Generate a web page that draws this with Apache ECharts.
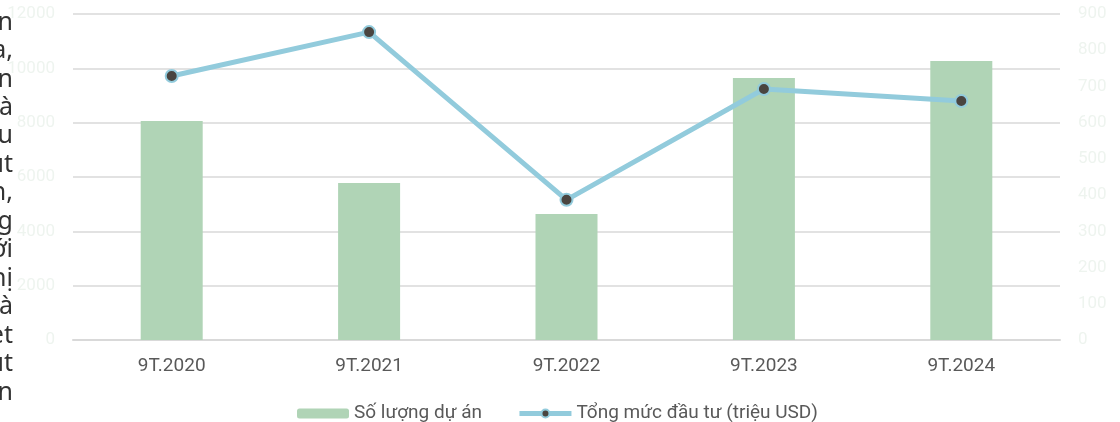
<!DOCTYPE html>
<html>
<head>
<meta charset="utf-8">
<script src="https://cdn.jsdelivr.net/npm/echarts@6/dist/echarts.min.js"></script>
<style>
  html, body { margin: 0; padding: 0; background: #fff; }
  #chart { width: 1120px; height: 422px; }
</style>
</head>
<body>
<div id="chart"></div>
<script>
// categories + values
var categories = ['9T.2020', '9T.2021', '9T.2022', '9T.2023', '9T.2024'];
var projectCount = [8060, 5780, 4640, 9640, 10270];
var investment = [729, 850, 387, 693, 660];
var leftTicks = { min: 0, max: 12000, interval: 2000 };
var rightTicks = { min: 0, max: 900, interval: 100 };
// cut-off paragraph text at the left edge
var sideText = ['n', 'a,', 'n', 'à', 'u', 'ut', 'n,', 'g', 'ới', 'hị', 'à', 'et', 'ut', 'n'];

var chart = echarts.init(document.getElementById('chart'));

var graphics = sideText.map(function (t, i) {
  return {
    type: 'text',
    right: 1120 - 13,
    top: 10 + i * 28.46,
    z: 100,
    style: {
      text: t,
      fill: '#333333',
      font: '25px "Noto Sans"',
      textAlign: 'right'
    }
  };
});

var plainNum = function (v) { return String(v); };

var option = {
  animation: false,
  textStyle: { fontFamily: 'Roboto' },
  grid: { left: 73, right: 60, top: 14, bottom: 82 },
  legend: {
    left: 292,
    top: 399,
    itemGap: 35,
    itemWidth: 52,
    itemHeight: 10,
    textStyle: { color: '#595959', fontSize: 19 },
    data: [
      { name: 'Số lượng dự án', itemStyle: { color: '#b0d4b6' } },
      {
        name: 'Tổng mức đầu tư (triệu USD)',
        lineStyle: { color: '#92cbdc', width: 5 },
        itemStyle: { color: '#4a4540', borderColor: '#92cbdc', borderWidth: 2 }
      }
    ]
  },
  xAxis: {
    type: 'category',
    data: categories,
    axisTick: { show: false },
    axisLine: { lineStyle: { color: '#d9d9d9', width: 2 } },
    axisLabel: { color: '#595959', fontSize: 19, margin: 17 }
  },
  yAxis: [
    {
      type: 'value',
      min: leftTicks.min,
      max: leftTicks.max,
      interval: leftTicks.interval,
      axisLabel: { color: '#eef4ef', fontSize: 17, margin: 18, formatter: plainNum },
      splitLine: { lineStyle: { color: '#d9d9d9', width: 1.5 } }
    },
    {
      type: 'value',
      min: rightTicks.min,
      max: rightTicks.max,
      interval: rightTicks.interval,
      axisLabel: { color: '#eef4ef', fontSize: 17, margin: 18, formatter: plainNum },
      splitLine: { show: false }
    }
  ],
  series: [
    {
      name: 'Số lượng dự án',
      type: 'bar',
      data: projectCount,
      barWidth: 62,
      itemStyle: { color: '#b0d4b6' },
      legendIcon: 'rect'
    },
    {
      name: 'Tổng mức đầu tư (triệu USD)',
      type: 'line',
      yAxisIndex: 1,
      data: investment,
      symbol: 'circle',
      symbolSize: 12,
      lineStyle: { color: '#92cbdc', width: 5 },
      itemStyle: { color: '#4a4540', borderColor: '#92cbdc', borderWidth: 2 }
    }
  ],
  graphic: graphics
};

chart.setOption(option);
</script>
</body>
</html>
